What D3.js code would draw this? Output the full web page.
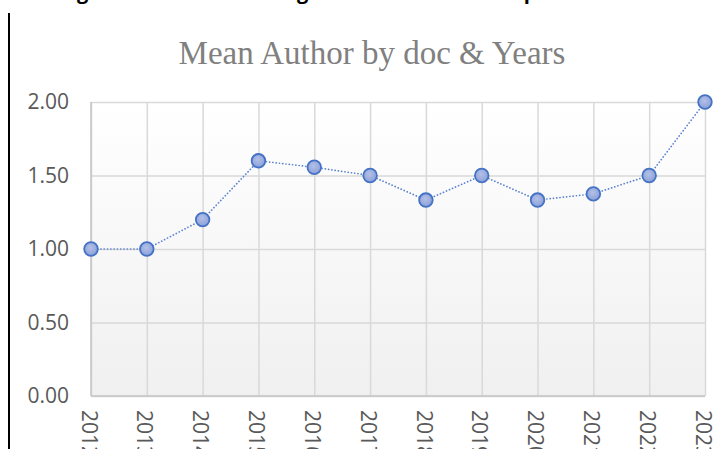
<!DOCTYPE html>
<html>
<head>
<meta charset="utf-8">
<script src="https://cdn.jsdelivr.net/npm/d3@7"></script>
<style>
  body { margin: 0; background: #fff; }
  svg { display: block; }
</style>
</head>
<body>
<div id="chart"></div>
<script>
const years = ['2012', '2013', '2014', '2015', '2016', '2017', '2018', '2019', '2020', '2021', '2022', '2023'];
const meanAuthors = [1.00, 1.00, 1.20, 1.60, 1.556, 1.50, 1.333, 1.50, 1.333, 1.375, 1.50, 2.00];
const yTicks = [0, 0.5, 1, 1.5, 2];
const title = 'Mean Author by doc & Years';
const caption = 'Figure 4: Trend of Average Number of Authors per Document';

const width = 723, height = 449;
const margin = { top: 102, right: 18, bottom: 53, left: 91 };

const svg = d3.select('#chart')
    .append('svg')
    .attr('width', width)
    .attr('height', height);

const defs = svg.append('defs');
const bg = defs.append('linearGradient')
    .attr('id', 'plotBg')
    .attr('x1', 0).attr('y1', 0).attr('x2', 0).attr('y2', 1);
bg.append('stop').attr('offset', '0%').attr('stop-color', '#ffffff');
bg.append('stop').attr('offset', '100%').attr('stop-color', '#f0f0f0');

const dotFill = defs.append('radialGradient')
    .attr('id', 'dotFill')
    .attr('cx', '45%').attr('cy', '40%').attr('r', '60%');
dotFill.append('stop').attr('offset', '0%').attr('stop-color', '#b3c1e8');
dotFill.append('stop').attr('offset', '100%').attr('stop-color', '#8ca0d8');

const x = d3.scalePoint()
    .domain(years)
    .range([margin.left, width - margin.right]);

const y = d3.scaleLinear()
    .domain([0, 2])
    .range([height - margin.bottom, margin.top]);

// plot background
svg.append('rect')
    .attr('x', x.range()[0])
    .attr('y', y(2))
    .attr('width', x.range()[1] - x.range()[0])
    .attr('height', y(0) - y(2))
    .attr('fill', 'url(#plotBg)');

// horizontal gridlines
svg.append('g')
    .attr('transform', `translate(${margin.left},0)`)
    .call(d3.axisLeft(y).tickValues(yTicks).tickSize(-(x.range()[1] - x.range()[0])).tickFormat(''))
    .call(g => g.select('.domain').remove())
    .call(g => g.selectAll('line').attr('stroke', '#d9d9d9').attr('stroke-width', 1.5));

// vertical gridlines
svg.append('g')
    .attr('transform', `translate(0,${y(2)})`)
    .call(d3.axisBottom(x).tickSize(y(0) - y(2)).tickFormat(''))
    .call(g => g.select('.domain').remove())
    .call(g => g.selectAll('line').attr('stroke', '#d9d9d9').attr('stroke-width', 1.5));

// axis lines
svg.append('line')
    .attr('x1', x.range()[0]).attr('x2', x.range()[1])
    .attr('y1', y(0)).attr('y2', y(0))
    .attr('stroke', '#c4c4c4').attr('stroke-width', 1.5);
svg.append('line')
    .attr('x1', x.range()[0]).attr('x2', x.range()[0])
    .attr('y1', y(0)).attr('y2', y(2))
    .attr('stroke', '#c4c4c4').attr('stroke-width', 1.5);

// y tick labels
svg.append('g')
    .attr('transform', `translate(${margin.left - 22},0)`)
    .call(d3.axisLeft(y).tickValues(yTicks).tickSize(0).tickPadding(0).tickFormat(d3.format('.2f')))
    .call(g => g.select('.domain').remove())
    .call(g => g.selectAll('text')
        .attr('fill', '#595959')
        .style('font-family', '"Open Sans", "Noto Sans", sans-serif')
        .style('font-size', '21px'));

// x tick labels, rotated (they run off the bottom edge like the original)
svg.append('g')
    .selectAll('text')
    .data(years)
    .join('text')
    .attr('transform', d => `translate(${x(d) - 2},${y(0) + 14}) rotate(90)`)
    .attr('dy', '0.35em')
    .attr('fill', '#595959')
    .style('font-family', '"Open Sans", "Noto Sans", sans-serif')
    .style('font-size', '21px')
    .text(d => d);

// line
const line = d3.line()
    .x((d, i) => x(years[i]))
    .y(d => y(d));

svg.append('path')
    .datum(meanAuthors)
    .attr('d', line)
    .attr('fill', 'none')
    .attr('stroke', '#5b82d0')
    .attr('stroke-width', 1.7)
    .attr('stroke-linecap', 'round')
    .attr('stroke-dasharray', '0.1,3.2');

svg.append('g')
    .selectAll('circle')
    .data(meanAuthors)
    .join('circle')
    .attr('cx', (d, i) => x(years[i]))
    .attr('cy', d => y(d))
    .attr('r', 6.8)
    .attr('fill', 'url(#dotFill)')
    .attr('stroke', '#4472c4')
    .attr('stroke-width', 1.8);

// title
svg.append('text')
    .attr('x', 372)
    .attr('y', 64)
    .attr('text-anchor', 'middle')
    .attr('fill', '#808080')
    .style('font-family', '"Liberation Serif", "Times New Roman", serif')
    .style('font-size', '33px')
    .text(title);

// caption cut off at top of the page
svg.append('text')
    .attr('x', 60)
    .attr('y', -1)
    .attr('fill', '#000')
    .style('font-family', '"Open Sans", sans-serif')
    .style('font-weight', 'bold')
    .style('font-size', '20px')
    .text(caption);

// left border
svg.append('line')
    .attr('x1', 9).attr('x2', 9)
    .attr('y1', 13).attr('y2', height)
    .attr('stroke', '#000')
    .attr('stroke-width', 2);
</script>
</body>
</html>
